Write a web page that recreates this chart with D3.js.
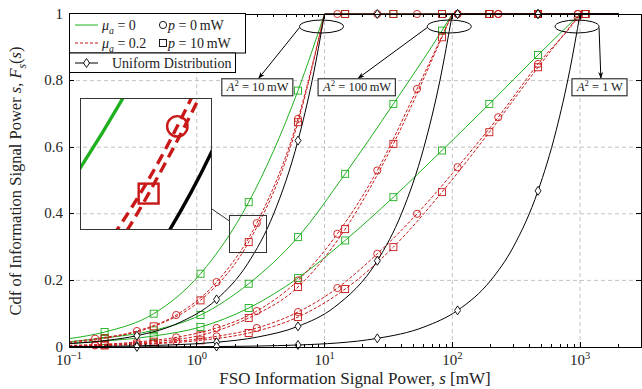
<!DOCTYPE html>
<html>
<head>
<meta charset="utf-8">
<style>
  body { margin: 0; background: #fff; }
  svg { display: block; font-family: "Liberation Serif", "DejaVu Serif", serif; }
</style>
</head>
<body>
<svg width="642" height="389"></svg>
<script src="https://d3js.org/d3.v7.min.js"></script>
<script>
// A^2 values (mW) where each group of curves reaches 1
var peaks = [10, 100, 1000];

// s positions (mW) that carry markers
var sSquare = [0.19, 0.46, 1.07, 2.55, 6.2, 14.5, 34.6, 83, 195, 469, 1100];
var sCircle = [0.16, 0.34, 0.69, 1.43, 2.95, 6.2, 12.6, 25.9, 53, 110, 229, 469, 960];
var sDiamond = [0.34, 1.43, 6.2, 25.9, 110, 469];

// mu_a = 0 (green), squares
var green10 = [[0.1,0.025],[0.19,0.045],[0.46,0.10],[1.07,0.22],[2.55,0.435],[6.2,0.77],[10,1],[14.5,1],[34.6,1],[83,1],[195,1],[469,1],[1100,1],[2000,1]];
var green100 = [[0.1,0.016],[0.19,0.027],[0.46,0.05],[1.07,0.096],[2.55,0.19],[6.2,0.33],[14.5,0.52],[34.6,0.73],[83,0.95],[100,1],[195,1],[469,1],[1100,1],[2000,1]];
var green1000 = [[0.1,0.011],[0.19,0.018],[0.46,0.033],[1.07,0.06],[2.55,0.117],[6.2,0.207],[14.5,0.32],[34.6,0.45],[83,0.59],[195,0.73],[469,0.877],[1000,1],[1100,1],[2000,1]];

// mu_a = 0.2, p = 0 mW (red, circles)
var redC10 = [[0.1,0.015],[0.16,0.025],[0.34,0.048],[0.69,0.096],[1.43,0.195],[2.95,0.372],[6.2,0.685],[10,1],[12.6,1],[25.9,1],[53,1],[110,1],[229,1],[469,1],[960,1],[2000,1]];
var redC100 = [[0.1,0.005],[0.16,0.007],[0.34,0.015],[0.69,0.029],[1.43,0.057],[2.95,0.108],[6.2,0.2],[12.6,0.34],[25.9,0.53],[53,0.775],[100,1],[110,1],[229,1],[469,1],[960,1],[2000,1]];
var redC1000 = [[0.1,0.003],[0.16,0.0047],[0.34,0.009],[0.69,0.017],[1.43,0.032],[2.95,0.057],[6.2,0.105],[12.6,0.177],[25.9,0.28],[53,0.40],[110,0.54],[229,0.69],[469,0.85],[960,0.99],[1000,1],[2000,1]];

// mu_a = 0.2, p = 10 mW (red, squares)
var redS10 = [[0.1,0.012],[0.19,0.026],[0.46,0.062],[1.07,0.14],[2.55,0.315],[6.2,0.675],[10,1],[14.5,1],[34.6,1],[83,1],[195,1],[469,1],[1100,1],[2000,1]];
var redS100 = [[0.1,0.004],[0.19,0.007],[0.46,0.016],[1.07,0.035],[2.55,0.087],[6.2,0.18],[14.5,0.354],[34.6,0.61],[83,0.93],[100,1],[195,1],[469,1],[1100,1],[2000,1]];
var redS1000 = [[0.1,0.0025],[0.19,0.0045],[0.46,0.0097],[1.07,0.02],[2.55,0.042],[6.2,0.09],[14.5,0.174],[34.6,0.30],[83,0.465],[195,0.645],[469,0.84],[1000,1],[1100,1],[2000,1]];

// uniform distribution (black, diamonds)
var black10 = [[0.1,0.01],[0.2,0.02],[0.34,0.034],[0.7,0.07],[1.43,0.143],[2.5,0.25],[4,0.4],[6.2,0.62],[8,0.8],[10,1],[25.9,1],[110,1],[469,1],[2000,1]];
var black100 = [[0.1,0.001],[0.34,0.0034],[1.43,0.0143],[3,0.03],[6.2,0.062],[12,0.12],[25.9,0.259],[40,0.4],[60,0.6],[80,0.8],[100,1],[110,1],[469,1],[2000,1]];
var black1000 = [[0.1,0.0001],[0.34,0.0003],[1.43,0.0014],[6.2,0.006],[25.9,0.026],[60,0.06],[110,0.11],[200,0.2],[300,0.3],[469,0.469],[650,0.65],[830,0.83],[1000,1],[2000,1]];

var xTicks = [0.1, 1, 10, 100, 1000];
var xTickExp = ["\u22121", "0", "1", "2", "3"];
var yTicks = [0, 0.2, 0.4, 0.6, 0.8, 1];
var yTickLabels = ["0", "0.2", "0.4", "0.6", "0.8", "1"];
var peakLabels = ["10\u2009mW", "100\u2009mW", "1\u2009W"];
// label anchor (s, F) for each A^2 box
var labelPos = [[3.0, 0.78], [18, 0.78], [1430, 0.78]];
// window shown magnified in the inset
var zoomS = [1.8, 3.5], zoomF = [0.285, 0.396];

var GREEN = "#1fb01f", RED = "#c81818", BLACK = "#000";

var svg = d3.select("svg");
var x = d3.scaleLog().domain([0.1, 3000]).range([69, 641]);
var y = d3.scaleLinear().domain([0, 1]).range([347, 14]);

var series = [
  {d: green10, p: 10, c: GREEN, m: "square", ms: sSquare},
  {d: green100, p: 100, c: GREEN, m: "square", ms: sSquare},
  {d: green1000, p: 1000, c: GREEN, m: "square", ms: sSquare},
  {d: redC10, p: 10, c: RED, dash: true, m: "circle", ms: sCircle},
  {d: redC100, p: 100, c: RED, dash: true, m: "circle", ms: sCircle},
  {d: redC1000, p: 1000, c: RED, dash: true, m: "circle", ms: sCircle},
  {d: redS10, p: 10, c: RED, dash: true, m: "square", ms: sSquare},
  {d: redS100, p: 100, c: RED, dash: true, m: "square", ms: sSquare},
  {d: redS1000, p: 1000, c: RED, dash: true, m: "square", ms: sSquare},
  {d: black10, p: 10, c: BLACK, m: "diamond", ms: sDiamond},
  {d: black100, p: 100, c: BLACK, m: "diamond", ms: sDiamond},
  {d: black1000, p: 1000, c: BLACK, m: "diamond", ms: sDiamond}
];

// grid
var grid = svg.append("g").attr("stroke", "#b4b4b4").attr("stroke-width", 0.8).attr("stroke-dasharray", "4,3");
xTicks.slice(1).forEach(function(t) {
  grid.append("line").attr("x1", x(t)).attr("x2", x(t)).attr("y1", y(0)).attr("y2", y(1));
});
yTicks.slice(1, -1).forEach(function(t) {
  grid.append("line").attr("x1", x(0.1)).attr("x2", x(3000)).attr("y1", y(t)).attr("y2", y(t));
});

function marker(g, type, cx, cy, k, color, sw) {
  if (type === "circle") {
    g.append("circle").attr("cx", cx).attr("cy", cy).attr("r", 3.6 * k)
      .attr("fill", "none").attr("stroke", color).attr("stroke-width", sw);
  } else if (type === "square") {
    var h = 3.5 * k;
    g.append("rect").attr("x", cx - h).attr("y", cy - h).attr("width", 2 * h).attr("height", 2 * h)
      .attr("fill", "none").attr("stroke", color).attr("stroke-width", sw);
  } else {
    var a = 3 * k, b = 4.5 * k;
    g.append("path").attr("d", "M" + cx + "," + (cy - b) + "L" + (cx + a) + "," + cy + "L" + cx + "," + (cy + b) + "L" + (cx - a) + "," + cy + "Z")
      .attr("fill", "#fff").attr("stroke", color).attr("stroke-width", sw);
  }
}

function drawSeries(g, sx, sy, k, mk) {
  series.forEach(function(s) {
    var line = d3.line().x(function(d) { return sx(d[0]); }).y(function(d) { return sy(d[1]); });
    var rise = s.d.filter(function(d) { return d[0] <= s.p; });
    var flat = s.d.filter(function(d) { return d[0] >= s.p; });
    var path = line.curve(d3.curveMonotoneX)(rise) + line.curve(d3.curveLinear)(flat).replace(/^M/, "L");
    g.append("path").attr("d", path).attr("fill", "none").attr("stroke", s.c)
      .attr("stroke-width", 1 * k)
      .attr("stroke-dasharray", s.dash ? (3.2 * k) + "," + (1.8 * k) : null);
    s.d.forEach(function(d) {
      var hit = s.ms.some(function(v) { return Math.abs(v - d[0]) < 1e-9; });
      if (hit) marker(g, s.m, sx(d[0]), sy(d[1]), mk, s.c, 0.9 * Math.max(1, k * 0.8));
    });
  });
}

svg.append("defs").append("clipPath").attr("id", "plotclip").append("rect")
  .attr("x", 60).attr("y", 5).attr("width", 582).attr("height", 350);
drawSeries(svg.append("g").attr("clip-path", "url(#plotclip)"), x, y, 1, 1);

// axes frame and ticks
var ax = svg.append("g").attr("stroke", "#000").attr("stroke-width", 1).attr("shape-rendering", "crispEdges");
ax.append("rect").attr("x", 69).attr("y", 14).attr("width", 572).attr("height", 333).attr("fill", "none");
var minor = [];
for (var e = -1; e <= 3; e++) for (var m = 2; m <= 9; m++) {
  var v = m * Math.pow(10, e);
  if (v < 3000) minor.push(v);
}
minor.forEach(function(v) {
  ax.append("line").attr("x1", x(v)).attr("x2", x(v)).attr("y1", y(0)).attr("y2", y(0) - 3);
  ax.append("line").attr("x1", x(v)).attr("x2", x(v)).attr("y1", y(1)).attr("y2", y(1) + 3);
});
xTicks.forEach(function(v) {
  ax.append("line").attr("x1", x(v)).attr("x2", x(v)).attr("y1", y(0)).attr("y2", y(0) - 5);
  ax.append("line").attr("x1", x(v)).attr("x2", x(v)).attr("y1", y(1)).attr("y2", y(1) + 5);
});
yTicks.forEach(function(v) {
  ax.append("line").attr("x1", 69).attr("x2", 74).attr("y1", y(v)).attr("y2", y(v));
  ax.append("line").attr("x1", 641).attr("x2", 636).attr("y1", y(v)).attr("y2", y(v));
});

// tick labels
var tl = svg.append("g").attr("fill", "#222");
yTicks.forEach(function(v, i) {
  tl.append("text").attr("x", 63).attr("y", y(v) + 4.5).attr("text-anchor", "end")
    .attr("font-size", 15).text(yTickLabels[i]);
});
xTicks.forEach(function(v, i) {
  var t = tl.append("text").attr("x", x(v)).attr("y", 365).attr("text-anchor", "middle").attr("font-size", 15);
  t.append("tspan").text("10");
  t.append("tspan").attr("font-size", 10.5).attr("dy", -6).text(xTickExp[i]);
});

// math text helper: parts = [text, flags]; i = italic, b = subscript, p = superscript
function mathText(t, parts, fs) {
  var cur = 0;
  parts.forEach(function(p) {
    var f = p[1] || "", target = 0, size = fs;
    if (f.indexOf("b") >= 0) { target = fs * 0.3; size = fs * 0.7; }
    if (f.indexOf("p") >= 0) { target = -fs * 0.4; size = fs * 0.7; }
    var ts = t.append("tspan").text(p[0]).attr("font-size", size);
    if (target !== cur) ts.attr("dy", target - cur);
    cur = target;
    if (f.indexOf("i") >= 0) ts.attr("font-style", "italic");
  });
}

// axis titles
var xt = svg.append("text").attr("x", 355).attr("y", 384).attr("text-anchor", "middle").attr("fill", "#222");
mathText(xt, [["FSO Information Signal Power, "], ["s", "i"], [" [mW]"]], 17);
var yt = svg.append("text").attr("transform", "translate(21,181) rotate(-90)").attr("text-anchor", "middle").attr("fill", "#222");
mathText(yt, [["Cdf of Information Signal Power "], ["s", "i"], [", "], ["F", "i"], ["s", "ib"], ["("], ["s", "i"], [")"]], 16.5);

// inset: magnified view of a small window
var win = {x0: x(zoomS[0]), x1: x(zoomS[1]), y0: y(zoomF[1]), y1: y(zoomF[0])};
var ins = {x0: 80, y0: 98, x1: 211, y1: 229};
var xi = d3.scaleLog().domain(zoomS).range([ins.x0, ins.x1]);
var yi = d3.scaleLinear().domain(zoomF).range([ins.y1, ins.y0]);
svg.append("defs").append("clipPath").attr("id", "insclip").append("rect")
  .attr("x", ins.x0).attr("y", ins.y0).attr("width", ins.x1 - ins.x0).attr("height", ins.y1 - ins.y0);
var mag = (ins.x1 - ins.x0) / (win.x1 - win.x0);
drawSeries(svg.append("g").attr("clip-path", "url(#insclip)"), xi, yi, mag * 0.95, mag * 0.8);
var box = svg.append("g").attr("fill", "none").attr("stroke", "#333").attr("stroke-width", 1).attr("shape-rendering", "crispEdges");
box.append("rect").attr("x", ins.x0).attr("y", ins.y0).attr("width", ins.x1 - ins.x0).attr("height", ins.y1 - ins.y0);
box.append("rect").attr("x", win.x0).attr("y", win.y0).attr("width", win.x1 - win.x0).attr("height", win.y1 - win.y0);
// connector between the two boxes along the centre line
var c1 = [(ins.x0 + ins.x1) / 2, (ins.y0 + ins.y1) / 2], c2 = [(win.x0 + win.x1) / 2, (win.y0 + win.y1) / 2];
var dx = c2[0] - c1[0], dy = c2[1] - c1[1];
var ta = (ins.x1 - c1[0]) / dx, tb = (win.x0 - c1[0]) / dx;
svg.append("line").attr("x1", c1[0] + ta * dx).attr("y1", c1[1] + ta * dy)
  .attr("x2", c1[0] + tb * dx).attr("y2", c1[1] + tb * dy).attr("stroke", "#333").attr("stroke-width", 1);

// A^2 annotations: ellipse, arrow, label box
var defs = svg.append("defs");
defs.append("marker").attr("id", "arr").attr("viewBox", "0 0 10 10").attr("refX", 9).attr("refY", 5)
  .attr("markerWidth", 7).attr("markerHeight", 7).attr("orient", "auto")
  .append("path").attr("d", "M0,1.5L10,5L0,8.5L3,5Z").attr("fill", "#000");
var ann = svg.append("g");
peaks.forEach(function(pk, i) {
  var cx = x(pk) - 3, cy = 26.5, rx = 22, ry = 6.5;
  ann.append("ellipse").attr("cx", cx).attr("cy", cy).attr("rx", rx).attr("ry", ry)
    .attr("fill", "none").attr("stroke", "#000").attr("stroke-width", 1);
  var lx = x(labelPos[i][0]), ly = y(labelPos[i][1]);
  var sx0 = i === 2 ? cx + rx : cx - rx;
  ann.append("line").attr("x1", sx0).attr("y1", cy + 1).attr("x2", lx + 1).attr("y2", ly - 9)
    .attr("stroke", "#000").attr("stroke-width", 1).attr("marker-end", "url(#arr)");
  var lg = ann.append("g");
  var rect = lg.append("rect").attr("fill", "#fff").attr("stroke", "#333").attr("stroke-width", 1.2);
  var t = lg.append("text").attr("x", lx).attr("y", ly + 4).attr("text-anchor", "middle").attr("fill", "#222");
  mathText(t, [["A", "i"], ["2", "p"], [" = " + peakLabels[i]]], 12.5);
  var bb = t.node().getBBox();
  rect.attr("x", bb.x - 4).attr("y", ly - 8.5).attr("width", bb.width + 8).attr("height", 17);
});

// legend
var lgd = svg.append("g");
lgd.append("rect").attr("x", 69.5).attr("y", 13.5).attr("width", 176).attr("height", 39.5)
  .attr("fill", "#fff").attr("stroke", "#000");
lgd.append("rect").attr("x", 69.5).attr("y", 53).attr("width", 166).attr("height", 19.5)
  .attr("fill", "#fff").attr("stroke", "#000");
lgd.append("line").attr("x1", 75).attr("x2", 98).attr("y1", 25).attr("y2", 25).attr("stroke", GREEN);
lgd.append("line").attr("x1", 75).attr("x2", 98).attr("y1", 43).attr("y2", 43).attr("stroke", RED).attr("stroke-dasharray", "3,2");
lgd.append("line").attr("x1", 75).attr("x2", 98).attr("y1", 63).attr("y2", 63).attr("stroke", BLACK);
marker(lgd, "diamond", 86.5, 63, 1, BLACK, 0.9);
marker(lgd, "circle", 163, 25, 1, "#000", 0.9);
marker(lgd, "square", 163, 43, 1, "#000", 0.9);
var l1 = lgd.append("text").attr("x", 102).attr("y", 29.5).attr("fill", "#222");
mathText(l1, [["\u03bc", "i"], ["a", "ib"], [" = 0"]], 14);
var l2 = lgd.append("text").attr("x", 102).attr("y", 47.5).attr("fill", "#222");
mathText(l2, [["\u03bc", "i"], ["a", "ib"], [" = 0.2"]], 14);
var l3 = lgd.append("text").attr("x", 168).attr("y", 29.5).attr("fill", "#222");
mathText(l3, [["p", "i"], [" = 0\u2009mW"]], 14);
var l4 = lgd.append("text").attr("x", 168).attr("y", 47.5).attr("fill", "#222");
mathText(l4, [["p", "i"], [" = 10\u2009mW"]], 14);
lgd.append("text").attr("x", 112).attr("y", 67.5).attr("fill", "#222").attr("font-size", 14).text("Uniform Distribution");
</script>
</body>
</html>
